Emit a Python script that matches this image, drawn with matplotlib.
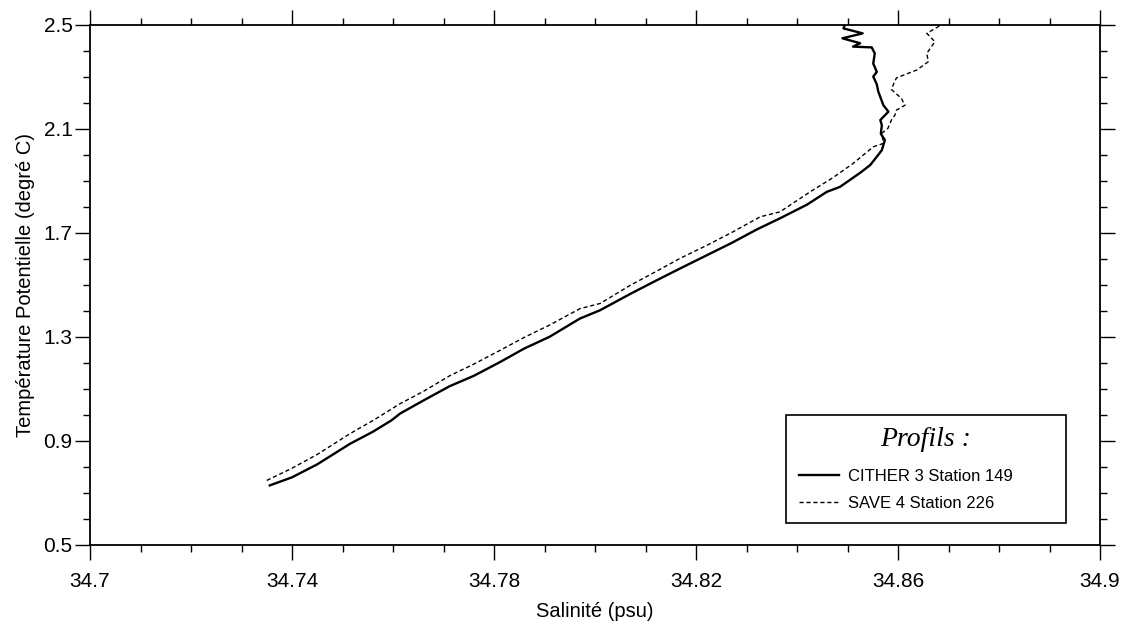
import matplotlib
matplotlib.use("Agg")
import matplotlib.pyplot as plt
from matplotlib.ticker import MultipleLocator, FixedLocator
from matplotlib.font_manager import FontProperties

# ---- data ----
cither_sal = [34.7356, 34.7400, 34.7450, 34.7515, 34.7560, 34.7597, 34.7614, 34.7660,
              34.7712, 34.7760, 34.7812, 34.7860, 34.7910, 34.7970, 34.8010, 34.8070,
              34.8120, 34.8168, 34.8220, 34.8270, 34.8320, 34.8366, 34.8420, 34.8459,
              34.8485, 34.8525, 34.8545, 34.8558, 34.8568, 34.8574, 34.8566, 34.8568,
              34.8565, 34.8581, 34.8571, 34.8561, 34.8558, 34.8551, 34.8558, 34.8551,
              34.8554, 34.8548, 34.8511, 34.8525, 34.8490, 34.8530, 34.8492, 34.8495]
cither_theta = [0.729, 0.760, 0.810, 0.889, 0.935, 0.979, 1.005, 1.055,
                1.110, 1.150, 1.203, 1.255, 1.300, 1.370, 1.402, 1.465,
                1.515, 1.562, 1.612, 1.660, 1.712, 1.755, 1.808, 1.857,
                1.876, 1.930, 1.960, 1.992, 2.017, 2.056, 2.080, 2.113,
                2.133, 2.165, 2.190, 2.242, 2.270, 2.300, 2.318, 2.350,
                2.389, 2.412, 2.415, 2.428, 2.447, 2.466, 2.485, 2.500]

save_sal = [34.7350, 34.7400, 34.7450, 34.7515, 34.7561, 34.7614, 34.7660, 34.7712,
            34.7760, 34.7812, 34.7860, 34.7910, 34.7970, 34.8010, 34.8070, 34.8120,
            34.8168, 34.8220, 34.8270, 34.8327, 34.8366, 34.8426, 34.8470, 34.8511,
            34.8551, 34.8571, 34.8568, 34.8580, 34.8587, 34.8594, 34.8597, 34.8614,
            34.8610, 34.8607, 34.8587, 34.8592, 34.8597, 34.8637, 34.8660, 34.8657,
            34.8673, 34.8657, 34.8680, 34.8685]
save_theta = [0.748, 0.795, 0.848, 0.928, 0.979, 1.043, 1.090, 1.150,
              1.195, 1.248, 1.298, 1.345, 1.408, 1.428, 1.498, 1.550,
              1.601, 1.650, 1.700, 1.761, 1.780, 1.857, 1.910, 1.966,
              2.030, 2.043, 2.082, 2.101, 2.133, 2.152, 2.171, 2.190,
              2.203, 2.216, 2.250, 2.275, 2.295, 2.325, 2.357, 2.389,
              2.434, 2.466, 2.492, 2.500]

x_ticks = [34.7, 34.74, 34.78, 34.82, 34.86, 34.9]
x_ticklabels = ["34.7", "34.74", "34.78", "34.82", "34.86", "34.9"]
y_ticks = [0.5, 0.9, 1.3, 1.7, 2.1, 2.5]
y_ticklabels = ["0.5", "0.9", "1.3", "1.7", "2.1", "2.5"]

labels = ["CITHER 3 Station 149", "SAVE 4 Station 226"]

# ---- figure ----
plt.rcParams['font.family'] = ['Liberation Sans', 'DejaVu Sans']
W, H = 1127, 629
fig = plt.figure(figsize=(W / 100, H / 100), dpi=100)
ax = fig.add_axes([90 / W, (H - 545) / H, 1010 / W, (545 - 24.5) / H])

ax.plot(cither_sal, cither_theta, color='black', lw=1.7, ls='-', label=labels[0])
ax.plot(save_sal, save_theta, color='black', lw=1.0, ls=(0, (3, 2)), label=labels[1])

ax.set_xlim(34.7, 34.9)
ax.set_ylim(0.5, 2.5)
ax.xaxis.set_major_locator(FixedLocator(x_ticks))
ax.set_xticklabels(x_ticklabels)
ax.xaxis.set_minor_locator(MultipleLocator(0.01))
ax.yaxis.set_major_locator(FixedLocator(y_ticks))
ax.set_yticklabels(y_ticklabels)
ax.yaxis.set_minor_locator(MultipleLocator(0.1))

ax.tick_params(which='both', direction='out', top=True, right=True, width=1.0, color='black')
ax.tick_params(which='major', length=10.5)
ax.tick_params(which='minor', length=5)
ax.tick_params(axis='x', which='major', pad=9, labelsize=15)
ax.tick_params(axis='y', which='major', pad=2, labelsize=15)
for s in ax.spines.values():
    s.set_linewidth(1.3)

ax.set_xlabel("Salinité (psu)", fontsize=14.5, labelpad=8)
ax.set_ylabel("Température Potentielle (degré C)", fontsize=14.5, labelpad=6)

box_left, box_right, box_top, box_bottom = 786, 1066, 415, 523
leg = ax.legend(loc='upper left',
                bbox_to_anchor=(box_left / W, 1 - box_bottom / H,
                                (box_right - box_left) / W, (box_bottom - box_top) / H),
                bbox_transform=fig.transFigure, mode='expand', borderaxespad=0,
                fontsize=12, title="Profils :", handlelength=2.4, handletextpad=0.6,
                labelspacing=0.7, borderpad=0.75, fancybox=False, framealpha=1,
                edgecolor='black',
                title_fontproperties=FontProperties(family='Liberation Serif',
                                                    style='italic', size=20))
leg.get_frame().set_linewidth(1.2)
leg._legend_box.sep = 12

fig.savefig("out.png", dpi=100)
